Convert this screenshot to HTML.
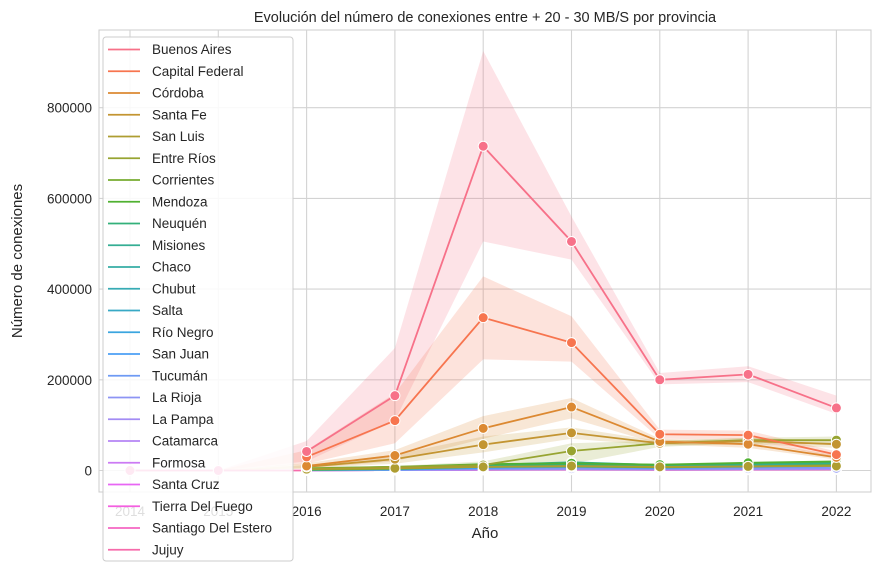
<!DOCTYPE html>
<html><head><meta charset="utf-8"><style>
body{margin:0;background:#fff;font-family:"Liberation Sans","DejaVu Sans",sans-serif}
svg text{font-family:"Liberation Sans","DejaVu Sans",sans-serif;fill:#262626}
</style></head><body>
<svg id="chart" width="879" height="571" xmlns="http://www.w3.org/2000/svg">
<text x="485" y="22" text-anchor="middle" font-size="14.5">Evolución del número de conexiones entre + 20  - 30 MB/S por provincia</text>
<rect x="99" y="30" width="772" height="462" fill="#fff" stroke="#ccc"/>
<g id="grid"></g><g id="bands"></g><g id="lines"></g><g id="axes"></g><g id="legend"></g>
<text x="485" y="538" text-anchor="middle" font-size="15">Año</text>
<text x="22" y="261" text-anchor="middle" font-size="15" transform="rotate(-90 22 261)">Número de conexiones</text>
</svg>
<script>
const years=[2014,2015,2016,2017,2018,2019,2020,2021,2022];
const yTicks=[0,200000,400000,600000,800000];
const provinces=["Buenos Aires","Capital Federal","Córdoba","Santa Fe","San Luis","Entre Ríos","Corrientes","Mendoza","Neuquén","Misiones","Chaco","Chubut","Salta","Río Negro","San Juan","Tucumán","La Rioja","La Pampa","Catamarca","Formosa","Santa Cruz","Tierra Del Fuego","Santiago Del Estero","Jujuy"];
const colors=["#f77189","#f7754f","#dc8932","#c39532","#ae9d31","#97a431","#77ab31","#50b131","#33b07a","#35ae93","#36ada4","#37abb4","#38a9c5","#3aa5df","#4b9ff4","#6e9af4","#8d94f4","#a38cf4","#b585f4","#cc7af4","#e866f4","#f45fe0","#f566c2","#f66bab"];
const N=null;
const values=[
[N,N,42000,165000,715000,505000,200000,212000,138000],
[N,N,30000,110000,337000,282000,80000,78000,35000],
[N,N,10000,33000,93000,140000,64000,58000,29000],
[N,N,8000,25000,57000,83000,60000,65000,58000],
[N,N,3000,5000,8000,10000,8000,9000,10000],
[N,N,4000,8000,12000,43000,60000,67000,67000],
[N,N,2000,4000,8000,9000,7000,9000,12000],
[N,N,5000,8000,14000,16000,13000,17000,20000],
[N,N,3000,6000,12000,14000,12000,15000,18000],
[N,N,2000,5000,12000,18000,12000,14000,16000],
[N,N,1000,3000,10000,14000,10000,12000,15000],
[N,N,2000,4000,9000,12000,9000,11000,13000],
[N,N,1000,3000,8000,10000,8000,10000,12000],
[N,N,1000,3000,7000,9000,7000,9000,11000],
[N,N,1000,2000,6000,8000,6000,8000,10000],
[N,N,1000,2000,5000,7000,5000,7000,9000],
[N,N,500,1000,3000,4000,3000,4000,5000],
[N,N,500,1000,3000,4000,3000,4000,5000],
[N,N,500,1000,2000,3000,2000,3000,4000],
[N,N,500,1000,2000,3000,2000,3000,4000],
[N,N,500,1000,2000,2500,2000,2500,3000],
[N,N,500,1000,2000,2500,2000,2500,3000],
[N,N,500,1000,1500,2000,1500,2000,2500],
[0,0,0,1000,1500,2000,1500,2000,2500]];
const bandIdx=[0,1,2,3,5];
const bandLow=[
[N,0,20000,110000,505000,465000,190000,195000,125000],
[N,0,15000,60000,245000,240000,70000,68000,28000],
[N,0,5000,20000,70000,115000,58000,50000,24000],
[N,0,4000,15000,40000,70000,55000,58000,50000],
[N,N,2000,5000,8000,15000,52000,60000,58000]];
const bandHigh=[
[N,0,65000,270000,925000,560000,215000,230000,165000],
[N,0,45000,170000,428000,340000,90000,88000,42000],
[N,0,16000,45000,120000,160000,70000,65000,34000],
[N,0,12000,35000,75000,95000,65000,72000,65000],
[N,N,6000,10000,20000,60000,66000,72000,75000]];
const NS="http://www.w3.org/2000/svg";
const X=y=>130+(y-2014)*88.3;
const Y=v=>470.5-v*0.0004535;
function mk(t,a,p){const e=document.createElementNS(NS,t);for(const k in a)e.setAttribute(k,a[k]);p.appendChild(e);return e;}
const grid=document.getElementById('grid'),axes=document.getElementById('axes');
years.forEach(yr=>{
 const l=mk('line',{x1:X(yr),x2:X(yr),y1:30,y2:492,stroke:'#d3d3d3','stroke-width':1.1},grid);
 
 
 const t=mk('text',{x:X(yr),y:516,'text-anchor':'middle','font-size':13.5},axes);t.textContent=yr;
 
 
});
yTicks.forEach(v=>{
 const l=mk('line',{x1:99,x2:871,y1:Y(v),y2:Y(v),stroke:'#d3d3d3','stroke-width':1.1},grid);
 
 
 const t=mk('text',{x:92,y:Y(v)+5,'text-anchor':'end','font-size':13.5},axes);t.textContent=v;
 
 
});
const bands=document.getElementById('bands');
bandIdx.forEach((pi,bi)=>{
 const up=[],lo=[];
 years.forEach((yr,i)=>{if(bandHigh[bi][i]!==null){up.push(X(yr)+','+Y(bandHigh[bi][i]));lo.unshift(X(yr)+','+Y(bandLow[bi][i]));}});
 const p=mk('polygon',{points:up.concat(lo).join(' '),fill:colors[pi],'fill-opacity':0.2},bands);
 
 
});
const lines=document.getElementById('lines');
for(let pi=provinces.length-1;pi>=0;pi--){
 const pts=[];years.forEach((yr,i)=>{if(values[pi][i]!==null)pts.push([X(yr),Y(values[pi][i])]);});
 const pl=mk('polyline',{points:pts.map(p=>p.join(',')).join(' '),fill:'none',stroke:colors[pi],'stroke-width':1.8},lines);
 
 
 pts.forEach(p=>{const c=mk('circle',{cx:p[0],cy:p[1],r:5,fill:colors[pi],stroke:'#fff','stroke-width':1},lines);
  
  });
}
const lg=document.getElementById('legend');
const box=mk('rect',{x:103,y:37,width:190,height:524,rx:3,fill:'#fff','fill-opacity':0.85,stroke:'#ccc'},lg);


provinces.forEach((n,i)=>{
 const y=49.5+i*21.75;
 const g=mk('g',{},lg);
 
 
 mk('line',{x1:108,x2:140,y1:y,y2:y,stroke:colors[i],'stroke-width':1.8},g);
 const t=mk('text',{x:152,y:y+4.5,'font-size':13.5},g);t.textContent=n;
});
</script>
</body></html>
